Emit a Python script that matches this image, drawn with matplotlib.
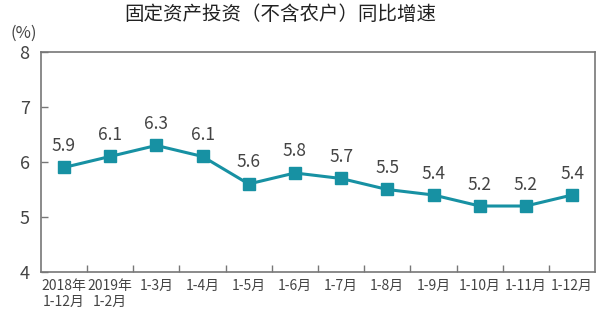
import matplotlib
matplotlib.use("Agg")
import matplotlib.pyplot as plt

plt.rcParams['font.family'] = ['Noto Sans CJK SC', 'DejaVu Sans']

categories = ["2018年\n1-12月", "2019年\n1-2月", "1-3月", "1-4月", "1-5月", "1-6月",
              "1-7月", "1-8月", "1-9月", "1-10月", "1-11月", "1-12月"]
growth = [5.9, 6.1, 6.3, 6.1, 5.6, 5.8, 5.7, 5.5, 5.4, 5.2, 5.2, 5.4]
y_ticks = [4, 5, 6, 7, 8]

line_color = "#1791a3"
text_color = "#444444"
spine_color = "#777777"

fig = plt.figure(figsize=(6.0, 3.22), dpi=100)
ax = fig.add_axes([0.068, 0.155, 0.924, 0.684])

x = list(range(len(categories)))
ax.plot(x, growth, color=line_color, linewidth=2.2, marker="s", markersize=9,
        markerfacecolor=line_color, markeredgecolor=line_color, zorder=3)

for xi, v in zip(x, growth):
    ax.annotate(f"{v:.1f}", (xi, v), xytext=(0, 9), textcoords="offset points",
                ha="center", va="bottom", fontsize=12.5, color=text_color)

ax.set_xlim(-0.5, len(categories) - 0.5)
ax.set_ylim(4, 8)
ax.set_yticks(y_ticks)
ax.set_yticklabels([str(t) for t in y_ticks], fontsize=13, color=text_color)

# category labels centred under each point, ticks on the boundaries
ax.set_xticks(x)
ax.set_xticklabels(categories, fontsize=10, color=text_color, linespacing=1.15)
ax.tick_params(axis="x", which="major", length=0, pad=5)
ax.set_xticks([i + 0.5 for i in range(len(categories) - 1)], minor=True)
ax.tick_params(axis="x", which="minor", direction="in", length=5, color=spine_color, width=1)
ax.tick_params(axis="y", direction="in", length=5, color=spine_color, width=1, pad=8)

for s in ax.spines.values():
    s.set_color(spine_color)
    s.set_linewidth(1.2)

fig.text(0.467, 0.955, "固定资产投资（不含农户）同比增速", ha="center", va="center",
         fontsize=14, color="#222222")
fig.text(0.04, 0.895, "(%)", ha="center", va="center", fontsize=12, color=text_color)

fig.savefig("out.png", dpi=100)
